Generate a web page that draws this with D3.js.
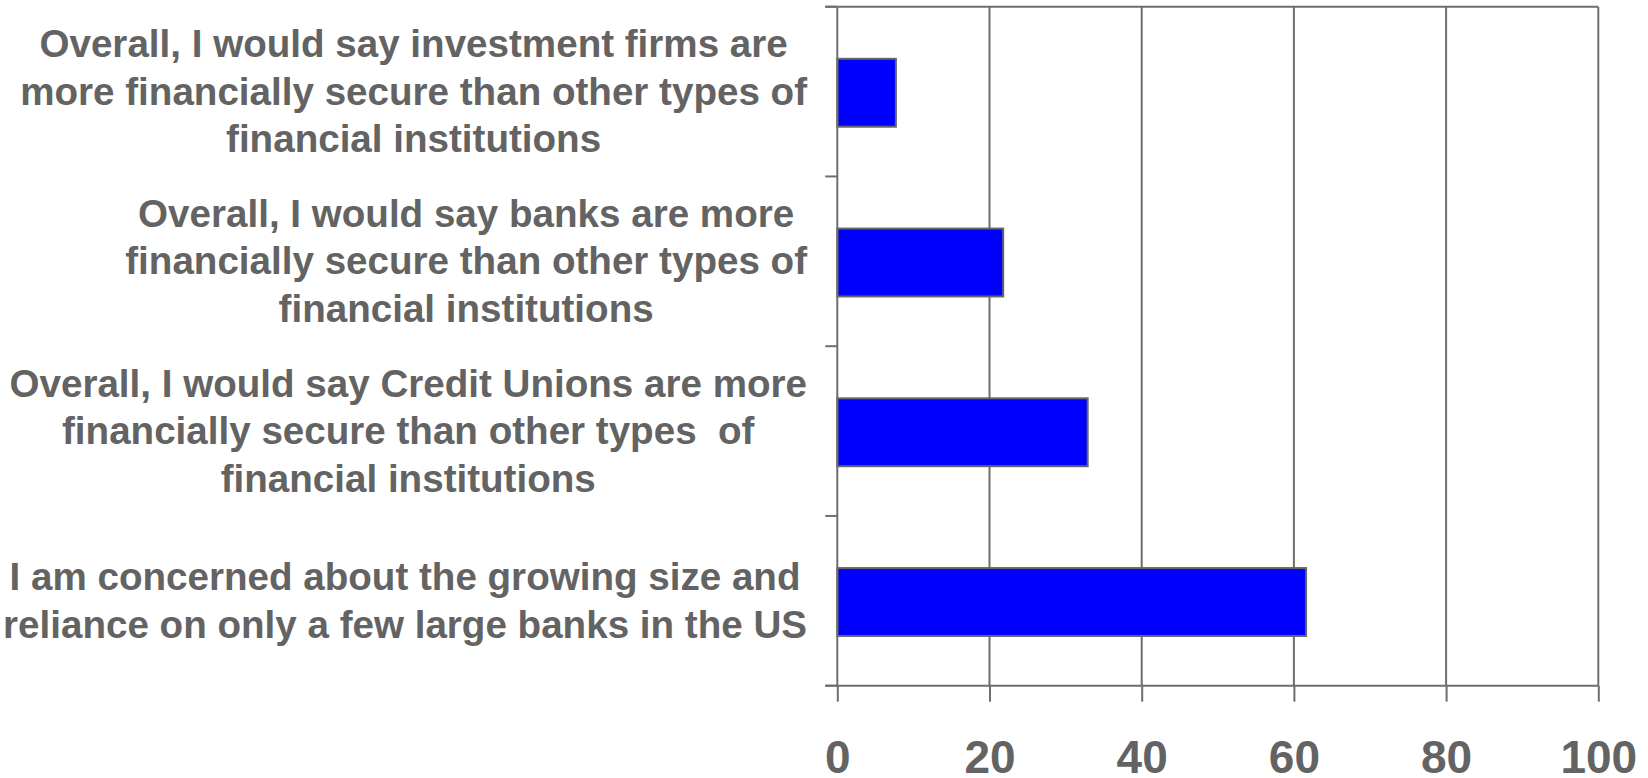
<!DOCTYPE html>
<html>
<head>
<meta charset="utf-8">
<script src="https://cdn.jsdelivr.net/npm/d3@7"></script>
<style>
  html, body { margin: 0; padding: 0; background: #fff; }
  svg { display: block; }
  text { font-family: "Liberation Sans", Arial, sans-serif; font-weight: bold; fill: #636363; }
</style>
</head>
<body>
<svg id="chart" width="1648" height="778"></svg>
<script>
// Survey statements (top to bottom), each split into its displayed lines
const statements = [
  ["Overall, I would say investment firms are", "more financially secure than other types of", "financial institutions"],
  ["Overall, I would say banks are more", "financially secure than other types of", "financial institutions"],
  ["Overall, I would say Credit Unions are more", "financially secure than other types  of", "financial institutions"],
  ["I am concerned about the growing size and", "reliance on only a few large banks in the US"]
];
// Percentage agreeing with each statement
const agreePct = [7.7, 21.8, 32.9, 61.6];
const xTicks = [0, 20, 40, 60, 80, 100];

const svg = d3.select("#chart");
const axisColor = "#6e6e6e";

const plotLeft = 837.3, plotRight = 1598.3, plotTop = 6.7, plotBottom = 685.7;

const x = d3.scaleLinear().domain([0, 100]).range([plotLeft, plotRight]);
const y = d3.scaleBand().domain(d3.range(statements.length)).range([plotTop, plotBottom]).padding(0);
const barH = y.bandwidth() * 0.4;

// vertical gridlines and right frame
svg.append("g").selectAll("line")
  .data(xTicks.filter(d => d > 0))
  .join("line")
  .attr("x1", d => x(d)).attr("x2", d => x(d))
  .attr("y1", plotTop).attr("y2", plotBottom)
  .attr("stroke", axisColor).attr("stroke-width", 2);

// top frame
svg.append("line")
  .attr("x1", plotLeft - 12).attr("x2", x(100))
  .attr("y1", plotTop).attr("y2", plotTop)
  .attr("stroke", axisColor).attr("stroke-width", 2);

// bars
svg.append("g").selectAll("rect")
  .data(agreePct)
  .join("rect")
  .attr("x", x(0))
  .attr("y", (d, i) => y(i) + (y.bandwidth() - barH) / 2 + 1.2)
  .attr("width", d => x(d) - x(0))
  .attr("height", barH)
  .attr("fill", "#0000ff")
  .attr("stroke", "#666")
  .attr("stroke-width", 2);

// y axis with category boundary ticks
const yAxis = svg.append("g");
yAxis.append("line")
  .attr("x1", plotLeft).attr("x2", plotLeft)
  .attr("y1", plotTop).attr("y2", plotBottom)
  .attr("stroke", axisColor).attr("stroke-width", 2);
yAxis.selectAll("line.tick")
  .data(d3.range(statements.length + 1))
  .join("line")
  .attr("class", "tick")
  .attr("x1", plotLeft - 12).attr("x2", plotLeft)
  .attr("y1", i => plotTop + i * y.step()).attr("y2", i => plotTop + i * y.step())
  .attr("stroke", axisColor).attr("stroke-width", 2);

// x axis
const xAxis = svg.append("g").attr("transform", `translate(0,${plotBottom})`)
  .call(d3.axisBottom(x).tickValues(xTicks).tickSize(16).tickPadding(0).tickFormat(d3.format("d")));
xAxis.select(".domain").remove();
xAxis.append("line")
  .attr("x1", plotLeft - 12).attr("x2", x(100))
  .attr("stroke", axisColor).attr("stroke-width", 2);
xAxis.selectAll(".tick line").attr("stroke", axisColor).attr("stroke-width", 2);
xAxis.selectAll(".tick text")
  .attr("y", 87).attr("dy", 0)
  .style("font-size", "46px")
  .style("font-family", "'Liberation Sans', Arial, sans-serif")
  .style("font-weight", "bold")
  .attr("fill", "#636363");

// category labels: centred lines, block right-aligned beside the axis
const labelFont = 38.6, lineGap = 47.4, labelRight = 807;
const labels = svg.append("g");
statements.forEach((lines, i) => {
  const g = labels.append("g");
  const cy = y(i) + y.bandwidth() / 2 + 0;
  const n = lines.length;
  const texts = lines.map((ln, k) => g.append("text")
    .attr("text-anchor", "middle")
    .style("font-size", labelFont + "px")
    .style("white-space", "pre")
    .attr("y", cy + (k - (n - 1) / 2) * lineGap + labelFont * 0.34)
    .text(ln));
  const maxW = d3.max(texts, t => t.node().getComputedTextLength());
  texts.forEach(t => t.attr("x", labelRight - maxW / 2));
});
</script>
</body>
</html>
